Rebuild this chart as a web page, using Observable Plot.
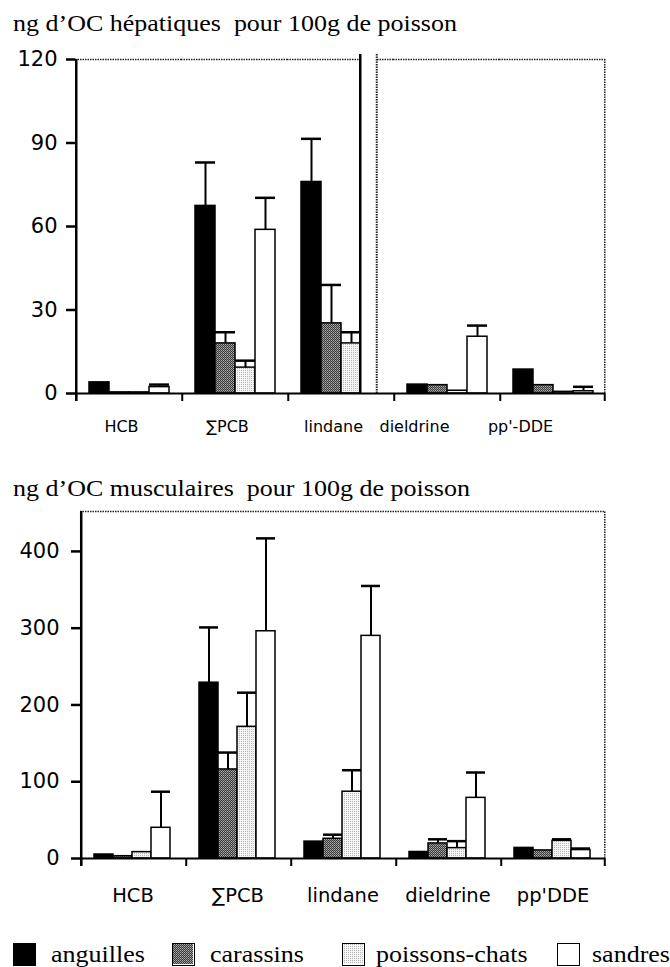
<!DOCTYPE html>
<html><head><meta charset="utf-8">
<script src="https://cdn.jsdelivr.net/npm/d3@7"></script>
<script src="https://cdn.jsdelivr.net/npm/@observablehq/plot@0.6"></script>
<style>
body{margin:0;background:#fff;width:670px;height:967px;position:relative;overflow:hidden;}
.title{position:absolute;left:13px;font-family:"Liberation Serif","Times New Roman",serif;font-size:23px;line-height:23px;transform:scaleX(1.13);transform-origin:left top;white-space:pre;color:#000;}
#t1{top:12px}
#t2{top:477px}
#c1{position:absolute;left:0;top:40px}
#c2{position:absolute;left:0;top:505px}
.leg{position:absolute;top:940px;height:27px;font-family:"Liberation Serif","Times New Roman",serif;font-size:23px;}
.sw{position:absolute;top:3px;width:23px;height:23px;box-sizing:border-box;border:1.5px solid #000;}
.lt{position:absolute;top:2px;transform:scaleX(1.13);transform-origin:left top;white-space:pre;}
</style></head>
<body>
<svg width="0" height="0" style="position:absolute">
  <defs>
    <pattern id="patDark" width="2" height="2" patternUnits="userSpaceOnUse">
      <rect width="2" height="2" fill="#3a3a3a"/>
      <rect x="1" y="0" width="1" height="1" fill="#b0b0b0"/>
      <rect x="0" y="1" width="1" height="1" fill="#8a8a8a"/>
    </pattern>
    <pattern id="patLight" width="2" height="2" patternUnits="userSpaceOnUse">
      <rect width="2" height="2" fill="#f4f4f4"/>
      <rect x="1" y="0" width="1" height="1" fill="#b8b8b8"/>
    </pattern>
  </defs>
</svg>
<div class="title" id="t1">ng d’OC hépatiques  pour 100g de poisson</div>
<div id="c1"></div>
<div class="title" id="t2">ng d’OC musculaires  pour 100g de poisson</div>
<div id="c2"></div>
<div id="legend"></div>
<script>
// ---------- data ----------
const species = ["anguilles", "carassins", "poissons-chats", "sandres"];
const speciesFills = ["black", "url(#patDark)", "url(#patLight)", "white"];

const catsLiver = ["HCB", "∑PCB", "lindane", "dieldrine", "pp'-DDE"];
const catsMuscle = ["HCB", "∑PCB", "lindane", "dieldrine", "pp'DDE"];

// ng d'OC hépatiques (mean, mean + error)
const liverAnguilles = [4.0, 67.4, 76.0, 3.2, 8.6];
const liverAnguillesErr = [null, 83.0, 91.5, null, null];
const liverCarassins = [0.4, 18.0, 25.2, 3.0, 3.0];
const liverCarassinsErr = [null, 22.0, 39.0, null, null];
const liverPoissonsChats = [0.4, 9.3, 18.0, 1.0, 0.6];
const liverPoissonsChatsErr = [null, 11.8, 22.0, null, null];
const liverSandres = [2.3, 58.8, null, 20.4, 0.8];
const liverSandresErr = [3.2, 70.3, null, 24.4, 2.4];

// ng d'OC musculaires (mean, mean + error)
const muscleAnguilles = [5.2, 229, 22, 8.5, 13.8];
const muscleAnguillesErr = [null, 301, null, null, null];
const muscleCarassins = [3.0, 116, 25.7, 19.6, 10.5];
const muscleCarassinsErr = [null, 138, 31, 25, null];
const musclePoissonsChats = [8.3, 171.5, 87, 13.5, 23];
const musclePoissonsChatsErr = [null, 216, 115, 22.6, 25];
const muscleSandres = [40, 296, 290, 79, 11];
const muscleSandresErr = [87, 417, 355, 112, 13];

const liverTicks = [0, 30, 60, 90, 120];
const muscleTicks = [0, 100, 200, 300, 400];

function buildRows(cats, vals, errs) {
  const rows = [];
  species.forEach((sp, s) => {
    cats.forEach((cat, i) => {
      const v = vals[s][i];
      if (v == null) return;
      rows.push({cat, sp, v, e: errs[s][i]});
    });
  });
  return rows;
}

const liverRows = buildRows(catsLiver,
  [liverAnguilles, liverCarassins, liverPoissonsChats, liverSandres],
  [liverAnguillesErr, liverCarassinsErr, liverPoissonsChatsErr, liverSandresErr]);
const muscleRows = buildRows(catsMuscle,
  [muscleAnguilles, muscleCarassins, musclePoissonsChats, muscleSandres],
  [muscleAnguillesErr, muscleCarassinsErr, musclePoissonsChatsErr, muscleSandresErr]);

const frameStroke = {stroke: "#222", strokeWidth: 1.5, strokeDasharray: "1.5 1"};

function makeChart(o) {
  const W = 670;
  const plotH = o.height - o.mt - o.mb;
  const bw = (W - o.ml - o.mr) / o.cats.length;          // facet band width
  const w = (bw - o.insL - o.insR) / species.length;      // bar slot width
  const leftDx = -(w / 2 + o.insL);                        // from first slot centre to facet left edge
  const rightDx = w / 2 + o.insR;                          // from last slot centre to facet right edge
  const tickLen = 8 / plotH * o.yMax;                      // 8px in data units
  const first = species[0], last = species[species.length - 1];
  const edgesLeft = o.cats.map(cat => ({cat, sp: first}));
  const edgeRight = [{cat: o.cats[o.cats.length - 1], sp: last}];
  const edgeFirst = [{cat: o.cats[0], sp: first}];
  const errRows = o.rows.filter(d => d.e != null);
  const marks = [
    // top + right frame (dotted)
    Plot.ruleY([o.yMax], frameStroke),
    Plot.ruleX(edgeRight, {fx: "cat", x: "sp", y1: 0, y2: o.yMax, dx: rightDx, ...frameStroke}),
    // bars
    Plot.barY(o.rows, {fx: "cat", x: "sp", y: "v", fill: "sp", stroke: "black", strokeWidth: 1.5}),
    // error bars
    Plot.ruleX(errRows, {fx: "cat", x: "sp", y1: "v", y2: "e", stroke: "black", strokeWidth: 2}),
    Plot.tickY(errRows, {fx: "cat", x: "sp", y: "e", stroke: "black", strokeWidth: 2.5})
  ];
  if (o.breakCat) {
    const b = [{cat: o.breakCat, sp: last}];
    marks.push(
      Plot.barY(b, {fx: "cat", x: "sp", y1: 0, y2: o.breakTop, fill: "white", insetLeft: -1, insetRight: 5}),
      Plot.ruleX(b, {fx: "cat", x: "sp", y1: 0, y2: o.breakTop, dx: o.breakL, stroke: "black", strokeWidth: 2.5}),
      Plot.ruleX(b, {fx: "cat", x: "sp", y1: 0, y2: o.breakTop, dx: o.breakR, ...frameStroke, strokeWidth: 2})
    );
  }
  marks.push(
    // x axis line, y axis line
    Plot.ruleY([0], {stroke: "black", strokeWidth: 2}),
    Plot.ruleX(edgeFirst, {fx: "cat", x: "sp", y1: -tickLen, y2: o.yMax, dx: leftDx, stroke: "black", strokeWidth: 2.5}),
    // category boundary ticks
    Plot.ruleX(edgesLeft, {fx: "cat", x: "sp", y1: 0, y2: -tickLen, dx: leftDx, stroke: "black", strokeWidth: 2}),
    Plot.ruleX(edgeRight, {fx: "cat", x: "sp", y1: 0, y2: -tickLen, dx: rightDx, stroke: "black", strokeWidth: 2}),
    Plot.axisY({ticks: o.yTicks, tickSize: 9, tickPadding: o.yPad, strokeWidth: 2.5, fontSize: o.yFont, label: null})
  );
  o.labelGroups.forEach(g => marks.push(
    Plot.axisFx({anchor: "bottom", ticks: g.ticks, tickSize: 0, tickPadding: o.labelPad, dx: g.dx, fontSize: o.labelFont, label: null})
  ));
  return Plot.plot({
    width: W,
    height: o.height,
    marginTop: o.mt, marginBottom: o.mb, marginLeft: o.ml, marginRight: o.mr,
    style: {fontFamily: "'DejaVu Sans', Verdana, sans-serif", background: "white", color: "black", overflow: "visible"},
    fx: {domain: o.cats, padding: 0, axis: null, label: null},
    x: {domain: species, padding: 0, axis: null, insetLeft: o.insL, insetRight: o.insR},
    y: {domain: [0, o.yMax], axis: null},
    color: {domain: species, range: speciesFills},
    marks
  });
}

document.getElementById("c1").append(makeChart({
  cats: catsLiver, rows: liverRows, yMax: 120, yTicks: liverTicks,
  height: 400, mt: 19, mb: 47, ml: 75, mr: 65, insL: 13, insR: 11,
  yPad: 9, yFont: 21, labelPad: 27, labelFont: 16,
  labelGroups: [{ticks: catsLiver.slice(0, 3), dx: -7}, {ticks: catsLiver.slice(3), dx: -32}],
  breakCat: "lindane", breakTop: 121.8, breakL: -11.25, breakR: 5.25
}));

document.getElementById("c2").append(makeChart({
  cats: catsMuscle, rows: muscleRows, yMax: 452, yTicks: muscleTicks,
  height: 410, mt: 6, mb: 57, ml: 79, mr: 65, insL: 13, insR: 14,
  yPad: 12, yFont: 21, labelPad: 30, labelFont: 19.5,
  labelGroups: [{ticks: catsMuscle, dx: 0}]
}));

// ---------- legend ----------
const legendSwatchX = [13, 172, 342, 557];
const legendTextX = [51, 210, 376, 592];
const legend = document.getElementById("legend");
species.forEach((sp, i) => {
  const item = document.createElement("div");
  item.className = "leg";
  item.style.left = "0px";
  const sw = document.createElement("div");
  sw.className = "sw";
  sw.style.left = legendSwatchX[i] + "px";
  sw.style.background = speciesFills[i].startsWith("url") ? "none" : speciesFills[i];
  if (speciesFills[i].startsWith("url")) {
    const s = document.createElementNS("http://www.w3.org/2000/svg", "svg");
    s.setAttribute("width", "20"); s.setAttribute("height", "20");
    s.style.display = "block";
    const r = document.createElementNS("http://www.w3.org/2000/svg", "rect");
    r.setAttribute("width", "20"); r.setAttribute("height", "20");
    r.setAttribute("fill", speciesFills[i]);
    s.append(r); sw.append(s);
  }
  const t = document.createElement("div");
  t.className = "lt";
  t.style.left = legendTextX[i] + "px";
  t.textContent = sp;
  item.append(sw, t);
  legend.append(item);
});
</script>
</body></html>
